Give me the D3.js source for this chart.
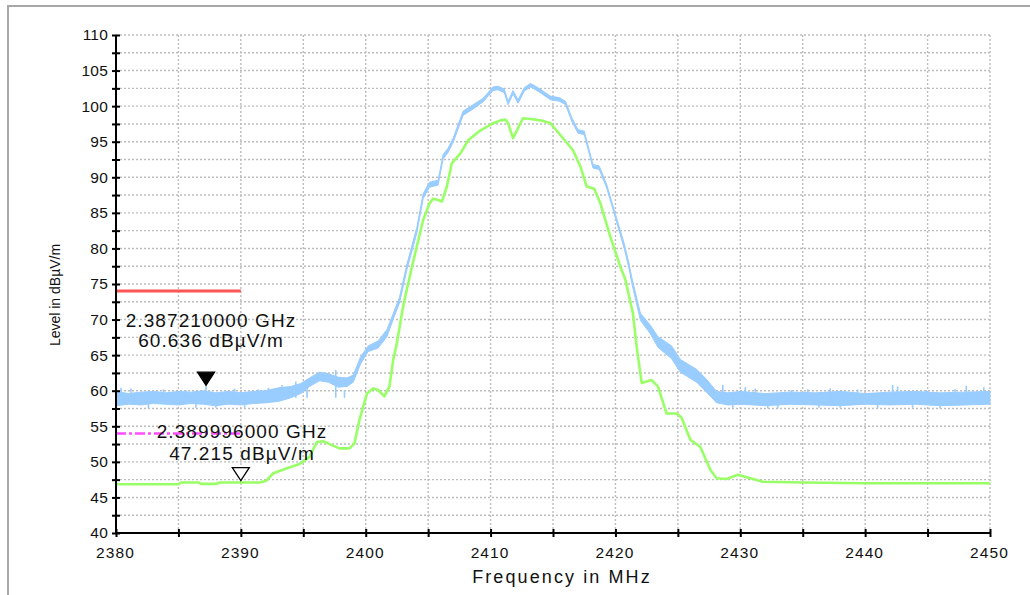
<!DOCTYPE html>
<html>
<head>
<meta charset="utf-8">
<script src="https://cdn.jsdelivr.net/npm/d3@7/dist/d3.min.js"></script>
<style>
  html, body { margin: 0; padding: 0; background: #fff; }
  svg { display: block; font-family: "Liberation Sans", Arial, sans-serif; }
</style>
</head>
<body>
<svg id="chart" width="1030" height="595"></svg>
<script>
// ---------- data ----------
const xTicks = [2380, 2385, 2390, 2395, 2400, 2405, 2410, 2415, 2420, 2425, 2430, 2435, 2440, 2445, 2450];
const xLabels = [2380, 2390, 2400, 2410, 2420, 2430, 2440, 2450];
const yTicks = [40, 42.5, 45, 47.5, 50, 52.5, 55, 57.5, 60, 62.5, 65, 67.5, 70, 72.5, 75, 77.5, 80, 82.5, 85, 87.5, 90, 92.5, 95, 97.5, 100, 102.5, 105, 107.5, 110];
const yLabels = [40, 45, 50, 55, 60, 65, 70, 75, 80, 85, 90, 95, 100, 105, 110];

// Peak trace (blue) : frequency, lower and upper edge of the noisy trace
const peakFreq = [2380, 2381, 2382, 2383, 2384, 2385, 2386, 2387, 2388, 2389, 2390, 2391, 2392, 2393, 2394, 2394.8, 2395.5, 2396.3, 2397, 2397.8, 2398.5, 2399, 2399.6, 2400.2, 2401, 2401.7, 2402.3, 2402.7, 2403.3, 2404.1, 2404.6, 2405.1, 2405.8, 2406.2, 2406.6, 2407, 2407.8, 2408.6, 2409.4, 2410.2, 2410.6, 2411.1, 2411.4, 2411.8, 2412.2, 2412.7, 2413.2, 2413.8, 2414.8, 2415.5, 2416, 2416.5, 2417, 2417.5, 2418.2, 2418.7, 2419.3, 2420, 2420.7, 2421.1, 2421.3, 2422, 2422.8, 2423.4, 2424.5, 2425.2, 2426.5, 2427.3, 2428.1, 2429, 2430, 2432, 2434, 2436, 2438, 2440, 2442, 2444, 2446, 2448, 2450];
const peakLo = [57.9, 58.1, 58.0, 58.2, 58.1, 58.0, 58.2, 58.1, 57.9, 58.1, 58.0, 58.2, 58.3, 58.5, 59.0, 59.6, 60.6, 61.4, 61.2, 60.5, 60.6, 61.2, 63.8, 65.5, 66.0, 67.6, 70.5, 72.3, 77.0, 82.2, 87.0, 88.6, 88.9, 92.6, 93.5, 94.9, 98.7, 99.6, 100.6, 102.2, 102.3, 101.9, 100.2, 101.7, 100.4, 102.1, 102.7, 102.1, 100.9, 100.7, 100.2, 97.9, 96.2, 96.0, 91.3, 91.1, 88.5, 84.3, 80.0, 77.1, 75.2, 69.9, 68.0, 66.1, 64.5, 62.6, 61.2, 59.8, 58.3, 58.0, 58.1, 57.9, 58.1, 58.0, 57.9, 58.1, 58.0, 58.1, 57.9, 58.0, 58.1];
const peakHi = [59.9, 59.6, 59.8, 59.9, 59.7, 59.9, 59.8, 60.0, 59.7, 59.9, 59.7, 59.9, 60.0, 60.4, 60.6, 61.0, 61.8, 62.6, 62.4, 61.9, 61.8, 62.2, 64.8, 66.3, 67.0, 68.6, 71.3, 73.1, 77.8, 83.0, 87.7, 89.3, 89.6, 93.2, 94.1, 95.5, 99.3, 100.2, 101.1, 102.7, 102.8, 102.4, 100.7, 102.2, 100.9, 102.6, 103.2, 102.6, 101.4, 101.2, 100.7, 98.4, 96.7, 96.5, 91.8, 91.6, 89.0, 84.8, 80.7, 77.8, 76.0, 70.9, 69.2, 67.6, 66.3, 64.4, 63.0, 61.6, 59.9, 59.7, 59.9, 59.6, 59.8, 59.7, 59.9, 59.6, 59.8, 59.9, 59.7, 59.8, 59.9];
// single noise spikes visible on the peak trace: frequency, value reached
const spikeFreq = [2380.4, 2381.2, 2382.6, 2383.8, 2385.6, 2386.4, 2387.21, 2388, 2389.5, 2390.3, 2391.4, 2392.2, 2393.3, 2394.4, 2395.3, 2397.6, 2398.3, 2428.6, 2429.4, 2430.4, 2431.2, 2432.2, 2433, 2434.1, 2435.4, 2436.3, 2437.2, 2438, 2439.4, 2441, 2442.2, 2442.6, 2443.8, 2444.9, 2446, 2447.2, 2448.1, 2449.5];
const spikeVal  = [60.4, 60.3, 57.5, 60.2, 60.1, 57.6, 60.7, 57.6, 60.3, 57.6, 60.2, 60.4, 60.8, 61.3, 61.5, 62.9, 60.0, 60.8, 57.6, 60.5, 60.3, 57.5, 57.5, 60.1, 60.2, 57.6, 60.3, 57.6, 60.2, 57.5, 60.8, 60.6, 57.6, 60.1, 57.5, 60.2, 60.7, 60.5];

// Average trace (green)
const avgFreq = [2380, 2385, 2385.2, 2386.6, 2386.8, 2388, 2388.3, 2391.5, 2392, 2392.6, 2393.7, 2394.7, 2395.5, 2396.1, 2396.6, 2397.1, 2397.9, 2398.7, 2399.1, 2399.5, 2400.1, 2400.6, 2401, 2401.5, 2401.9, 2402.2, 2402.5, 2402.9, 2403.1, 2403.7, 2404.6, 2405.1, 2405.4, 2405.8, 2406.1, 2406.5, 2406.9, 2407.6, 2408.2, 2409.2, 2410.2, 2410.8, 2411.2, 2411.4, 2411.8, 2412.2, 2412.6, 2413.2, 2414, 2414.8, 2415.7, 2416.6, 2417.2, 2417.7, 2418.3, 2418.8, 2419.6, 2420.4, 2420.8, 2421.4, 2421.7, 2422.1, 2422.9, 2423.4, 2424.1, 2424.9, 2425.3, 2426, 2426.8, 2427.6, 2428.1, 2428.9, 2429.8, 2430.8, 2431.8, 2435, 2440, 2445, 2450];
const avgVal  = [46.85, 46.85, 47.1, 47.1, 46.9, 46.9, 47.1, 47.1, 47.3, 48.4, 49.1, 49.7, 50.7, 52.8, 52.9, 52.5, 51.9, 51.9, 52.6, 55.9, 59.6, 60.3, 60.1, 59.2, 60.6, 64.3, 66.7, 70.9, 72.7, 77.4, 84.0, 86.3, 87.0, 86.8, 86.6, 88.7, 92.0, 93.4, 95.2, 96.6, 97.6, 98.0, 98.1, 97.6, 95.5, 96.9, 98.3, 98.2, 98.0, 97.6, 95.7, 93.8, 91.5, 88.7, 88.4, 86.3, 81.6, 77.4, 75.6, 70.9, 66.2, 61.1, 61.5, 60.6, 56.8, 56.8, 56.2, 53.1, 52.1, 48.9, 47.7, 47.6, 48.2, 47.7, 47.2, 47.1, 47.0, 47.0, 47.0];

// limit lines
const limitStart = [2380, 2380];
const limitEnd = [2390, 2390];
const limitLevel = [74, 54];

// markers
const markerFreqGHz = ["2.387210000", "2.389996000"];
const markerFreq = [2387.21, 2389.996];
const markerLevel = [60.636, 47.215];
const markerFilled = [true, false];

// ---------- drawing ----------
const svg = d3.select("#chart");
const x = d3.scaleLinear().domain([2380, 2450]).range([116, 990]);
const y = d3.scaleLinear().domain([40, 110]).range([533, 35]);

// outer frame
svg.append("rect").attr("x", 8).attr("y", 6).attr("width", 1100).attr("height", 700)
  .attr("fill", "#fff").attr("stroke", "#a8a8a8").attr("stroke-width", 2);

// grid
const grid = svg.append("g");
grid.selectAll("line.v").data(xTicks.filter(d => d > 2380)).enter().append("line")
  .attr("x1", d => x(d)).attr("x2", d => x(d)).attr("y1", y(40)).attr("y2", y(110))
  .attr("stroke", "#bdbdbd").attr("stroke-width", 1.4).attr("stroke-dasharray", "2,2");
grid.selectAll("line.h").data(yTicks.filter(d => d > 40)).enter().append("line")
  .attr("x1", x(2380)).attr("x2", x(2450)).attr("y1", d => y(d)).attr("y2", d => y(d))
  .attr("stroke", "#bdbdbd").attr("stroke-width", 1.4).attr("stroke-dasharray", "2,2");

// limit lines
svg.append("line").attr("x1", x(limitStart[0])).attr("x2", x(limitEnd[0]))
  .attr("y1", y(limitLevel[0])).attr("y2", y(limitLevel[0]))
  .attr("stroke", "#ff5555").attr("stroke-width", 3);
svg.append("line").attr("x1", x(limitStart[1])).attr("x2", x(limitEnd[1]))
  .attr("y1", y(limitLevel[1])).attr("y2", y(limitLevel[1]))
  .attr("stroke", "#ff4dff").attr("stroke-width", 2.5).attr("stroke-dasharray", "10,3,3,3");

// peak trace as noisy band
const peakData = peakFreq.map((f, i) => ({ f, lo: peakLo[i], hi: peakHi[i] }));
const blue = "#99ccff";
svg.append("path").datum(peakData)
  .attr("d", d3.area().x(d => x(d.f)).y0(d => y(d.lo)).y1(d => y(d.hi)))
  .attr("fill", blue).attr("stroke", blue).attr("stroke-width", 1).attr("stroke-linejoin", "round");
svg.append("g").selectAll("line").data(spikeFreq).enter().append("line")
  .attr("x1", d => x(d)).attr("x2", d => x(d))
  .attr("y1", d => y(59)).attr("y2", (d, i) => y(spikeVal[i]))
  .attr("stroke", blue).attr("stroke-width", 1.6);

// average trace
const avgData = avgFreq.map((f, i) => ({ f, v: avgVal[i] }));
svg.append("path").datum(avgData)
  .attr("d", d3.line().x(d => x(d.f)).y(d => y(d.v)))
  .attr("fill", "none").attr("stroke", "#99ff66").attr("stroke-width", 2.6).attr("stroke-linejoin", "round");

// axes
const yAxis = svg.append("g").attr("transform", `translate(${x(2380)},0)`)
  .call(d3.axisLeft(y).tickValues(yTicks).tickSize(4).tickPadding(4)
    .tickFormat(d => yLabels.includes(d) ? String(d) : ""));
yAxis.select(".domain").attr("stroke", "#000").attr("stroke-width", 2).attr("d", `M0,${y(40)}V${y(110)}`);
yAxis.selectAll(".tick line").attr("x1", 4).attr("stroke-width", 2);
yAxis.selectAll(".tick text").attr("font-size", 15.5).attr("fill", "#111")
  .attr("font-family", "Liberation Sans, Arial, sans-serif").attr("x", -8).attr("letter-spacing", 0.2);

const xAxis = svg.append("g").attr("transform", `translate(0,${y(40)})`)
  .call(d3.axisBottom(x).tickValues(xTicks).tickSize(4).tickPadding(10)
    .tickFormat(d => xLabels.includes(d) ? String(d) : ""));
xAxis.select(".domain").attr("stroke", "#000").attr("stroke-width", 2).attr("d", `M${x(2380)},0H${x(2450)}`);
xAxis.selectAll(".tick line").attr("y1", -4).attr("stroke-width", 2);
xAxis.selectAll(".tick text").attr("font-size", 15.5).attr("fill", "#111")
  .attr("font-family", "Liberation Sans, Arial, sans-serif").attr("letter-spacing", 1.1).attr("dx", -1);

// axis titles
svg.append("text").attr("x", 562).attr("y", 583).attr("text-anchor", "middle")
  .attr("font-size", 18).attr("letter-spacing", 2.1).attr("fill", "#111").text("Frequency in MHz");
svg.append("text").attr("transform", "translate(60,295) rotate(-90)").attr("text-anchor", "middle")
  .attr("font-size", 14).attr("fill", "#111").text("Level in dBµV/m");

// markers
const mk = svg.append("g");
markerFreq.forEach((f, i) => {
  const tx = x(f), ty = y(markerLevel[i]) - 1;
  mk.append("path").attr("d", `M${tx - 8.5},${ty - 13}L${tx + 8.5},${ty - 13}L${tx},${ty}Z`)
    .attr("fill", markerFilled[i] ? "#000" : "#fff").attr("stroke", "#000").attr("stroke-width", 1.3);
});
const labelPos = [[211, 327, 347], [242, 438, 460]];
markerFreq.forEach((f, i) => {
  const [cx, y1, y2] = labelPos[i];
  mk.append("text").attr("x", cx).attr("y", y1).attr("text-anchor", "middle")
    .attr("font-size", 19).attr("letter-spacing", 1.1).attr("fill", "#111")
    .text(`${markerFreqGHz[i]} GHz`);
  mk.append("text").attr("x", cx).attr("y", y2).attr("text-anchor", "middle")
    .attr("font-size", 19).attr("letter-spacing", 1.1).attr("fill", "#111")
    .text(`${markerLevel[i].toFixed(3)} dBµV/m`);
});
</script>
</body>
</html>
